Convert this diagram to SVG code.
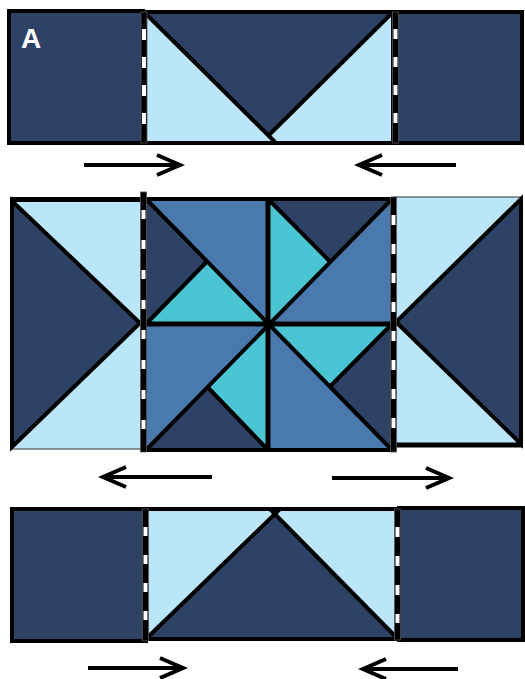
<svg xmlns="http://www.w3.org/2000/svg" width="525" height="679" viewBox="0 0 525 679">
<style>
.dk{fill:#2d4264}
.lt{fill:#bbe6f9}
.md{fill:#4a7aad}
.tl{fill:#4bc5d3}
.ol{stroke:#000;stroke-width:4;stroke-linejoin:miter}
.ln{stroke:#000;stroke-width:4;fill:none}
.thk{stroke:#000;stroke-width:5;fill:none}
.seam{fill:#000;stroke:#555;stroke-width:0.8}
.dash{stroke:#fff;stroke-width:4;fill:none}
.arr{stroke:#000;stroke-width:4;fill:none}
</style>
<g id="row1-left"><rect class="dk ol" x="9" y="11" width="134" height="132"/>
<text x="21" y="48" font-family="Liberation Sans, Arial, sans-serif" font-weight="bold" font-size="28" fill="#fff">A</text></g>
<g id="row1-center">
<rect class="lt ol" x="144" y="12" width="249" height="131"/>
<polygon class="dk" points="146,14 391,14 270,136"/>
<line class="ln" x1="146" y1="14" x2="275" y2="142"/>
<line class="ln" x1="391" y1="14" x2="268" y2="136"/>
</g>
<g id="row1-right"><rect class="dk ol" x="395" y="12" width="127" height="131"/></g>
<g id="row2-left">
<rect class="lt" x="11" y="199" width="132" height="250" stroke="#333" stroke-width="1"/>
<polygon class="ln" points="12,201 12,447 140,323" style="fill:#2d4264"/>
<line class="thk" x1="10" y1="199.5" x2="143" y2="199.5"/>
</g>
<g id="row2-center">
<polygon class="md" points="146,199 268,199 268,324"/>
<polygon class="dk" points="146,199 146,324 207,261.5"/>
<polygon class="tl" points="146,324 207,261.5 268,324"/>
<polygon class="dk" points="268,199 392,199 330,261.5"/>
<polygon class="tl" points="268,199 268,324 330,261.5"/>
<polygon class="md" points="392,199 392,324 268,324"/>
<polygon class="tl" points="268,324 392,324 330,386.5"/>
<polygon class="dk" points="392,324 392,450 330,386.5"/>
<polygon class="md" points="268,324 392,450 268,450"/>
<polygon class="md" points="146,324 268,324 146,450"/>
<polygon class="tl" points="268,324 268,450 207,386.5"/>
<polygon class="dk" points="146,450 268,450 207,386.5"/>
<line class="ln" x1="146" y1="199" x2="392" y2="450"/>
<line class="ln" x1="392" y1="199" x2="146" y2="450"/>
<line class="ln" x1="146" y1="324" x2="207" y2="261.5"/>
<line class="ln" x1="268" y1="199" x2="330" y2="261.5"/>
<line class="ln" x1="392" y1="324" x2="330" y2="386.5"/>
<line class="ln" x1="268" y1="450" x2="207" y2="386.5"/>
<line class="thk" x1="268" y1="197" x2="268" y2="452"/>
<line class="thk" x1="144" y1="324" x2="394" y2="324"/>
<rect class="ln" x="144" y="199" width="249" height="251"/>
</g>
<g id="row2-right">
<rect class="lt" x="394" y="197" width="128" height="249" stroke="#333" stroke-width="1"/>
<polygon class="ln" points="521,199 521,444 396,322" style="fill:#2d4264"/>
<line class="thk" x1="393" y1="445" x2="523" y2="445"/>
</g>
<g id="row3-left"><rect class="dk ol" x="12" y="509" width="134" height="132"/></g>
<g id="row3-center">
<rect class="lt ol" x="146" y="509" width="251" height="130"/>
<polygon class="dk" points="148,637 395,637 275,515"/>
<line class="ln" x1="148" y1="637" x2="280" y2="509"/>
<line class="ln" x1="270" y1="509" x2="395" y2="636"/>
</g>
<g id="row3-right"><rect class="dk ol" x="399" y="508" width="124" height="132"/></g>
<g id="seams">
<rect class="seam" x="141" y="12" width="6" height="131"/>
<line class="dash" x1="144" y1="29" x2="144" y2="126" stroke-dasharray="11 17"/>
<rect class="seam" x="392.5" y="12" width="6" height="131"/>
<line class="dash" x1="395.5" y1="29" x2="395.5" y2="124" stroke-dasharray="10 18"/>
<rect class="seam" x="140.5" y="192" width="6" height="260"/>
<line class="dash" x1="143.5" y1="210" x2="143.5" y2="430" stroke-dasharray="9 21"/>
<rect class="seam" x="390.5" y="197" width="6" height="255"/>
<line class="dash" x1="393.5" y1="215" x2="393.5" y2="432" stroke-dasharray="10 19"/>
<rect class="seam" x="142.5" y="509" width="6" height="132"/>
<line class="dash" x1="145.5" y1="527" x2="145.5" y2="623" stroke-dasharray="9 19"/>
<rect class="seam" x="394.5" y="509" width="6" height="131"/>
<line class="dash" x1="397.5" y1="527" x2="397.5" y2="623" stroke-dasharray="10 19"/>
</g>
<g id="connectors">
<path class="arr" d="M84,165 H179 M157,155 L180,165 L157,175"/>
<path class="arr" d="M456,165 H360 M382,155 L359,165 L382,175"/>
<path class="arr" d="M212,477 H104 M126,467 L103,477 L126,487"/>
<path class="arr" d="M332,478 H448 M426,468 L449,478 L426,488"/>
<path class="arr" d="M88,668 H182 M160,658 L183,668 L160,678"/>
<path class="arr" d="M458,669 H364 M386,659 L363,669 L386,679"/>
</g>
</svg>
